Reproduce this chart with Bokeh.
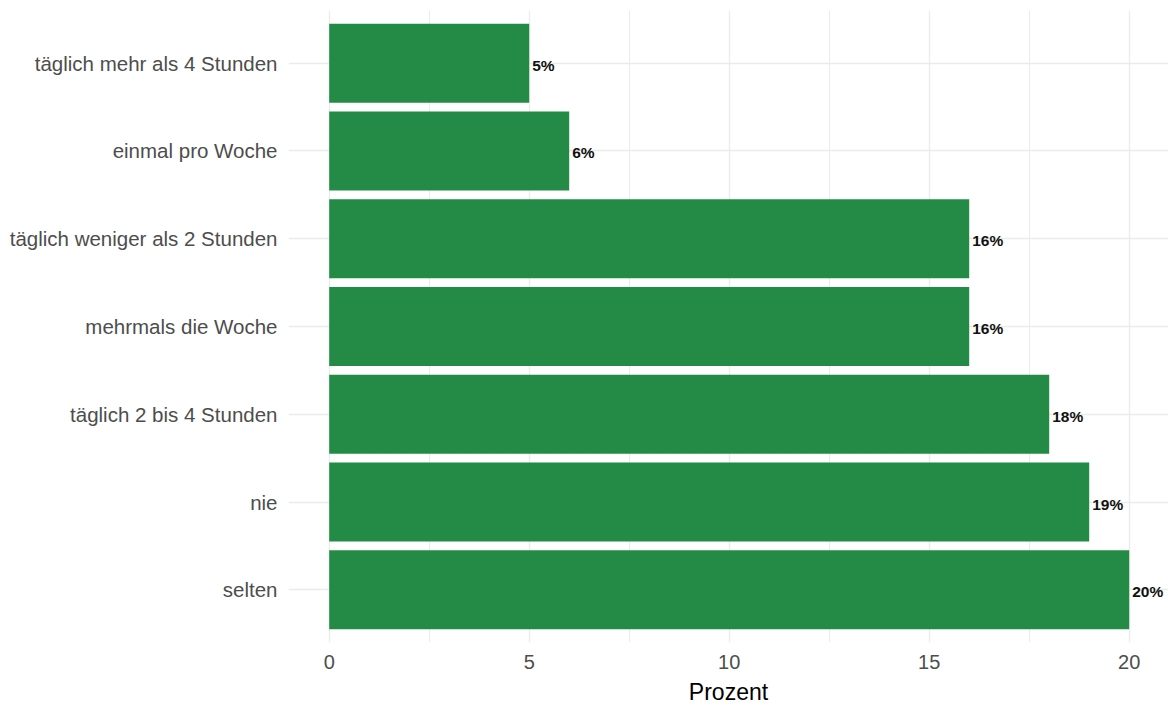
from bokeh.plotting import figure
from bokeh.models import Range1d, FixedTicker, ColumnDataSource
from bokeh.core.properties import value
from bokeh.embed import file_html
from bokeh.resources import INLINE

# Data (bottom to top)
categories = [
    "selten",
    "nie",
    "täglich 2 bis 4 Stunden",
    "mehrmals die Woche",
    "täglich weniger als 2 Stunden",
    "einmal pro Woche",
    "täglich mehr als 4 Stunden",
]
percent = [20, 19, 18, 16, 16, 6, 5]
x_ticks = [0, 5, 10, 15, 20]
x_minor = [2.5, 7.5, 12.5, 17.5]
x_title = "Prozent"

positions = list(range(1, len(categories) + 1))
labels = [f"{v}%" for v in percent]

src = ColumnDataSource(dict(y=positions, v=percent, lab=labels, cat=categories))

FONT = "Liberation Sans"

p = figure(
    width=1170, height=707,
    x_range=Range1d(-1.0175, 20.9825),
    y_range=Range1d(0.4, len(categories) + 0.6),
    output_backend="svg", toolbar_location=None,
    min_border_left=288, min_border_right=2, min_border_top=10, min_border_bottom=64,
)
p.outline_line_color = None
p.background_fill_color = "white"
p.border_fill_color = "white"

p.hbar(y="y", left=0, right="v", height=0.9, source=src,
       fill_color="#238b45", line_color=None)

p.text(x="v", y="y", text="lab", source=src, x_offset=3, y_offset=2,
       text_align="left", text_baseline="middle",
       text_font=value(FONT), text_font_style="bold",
       text_font_size="15.5px", text_color="#111111")

# x axis
p.xaxis.ticker = FixedTicker(ticks=x_ticks, minor_ticks=x_minor)
p.xaxis.axis_label = x_title
p.xaxis.axis_label_text_font = FONT
p.xaxis.axis_label_text_font_size = "23px"
p.xaxis.axis_label_text_font_style = "normal"
p.xaxis.axis_label_text_color = "#000000"
p.xaxis.axis_label_standoff = 7
p.xaxis.major_label_standoff = 6
p.xaxis.major_label_text_font = FONT
p.xaxis.major_label_text_font_size = "20px"
p.xaxis.major_label_text_color = "#4d4d4d"

# y axis
p.yaxis.ticker = FixedTicker(ticks=positions, minor_ticks=[])
p.yaxis.major_label_overrides = {pos: c for pos, c in zip(positions, categories)}
p.yaxis.major_label_standoff = 5
p.yaxis.major_label_text_font = FONT
p.yaxis.major_label_text_font_size = "20.5px"
p.yaxis.major_label_text_color = "#4d4d4d"

for ax in (p.xaxis, p.yaxis):
    ax.axis_line_color = None
    ax.major_tick_line_color = None
    ax.minor_tick_line_color = None

p.xgrid.grid_line_color = "#ebebeb"
p.xgrid.grid_line_width = 1.3
p.xgrid.minor_grid_line_color = "#ebebeb"
p.xgrid.minor_grid_line_width = 1.0
p.ygrid.grid_line_color = "#ebebeb"
p.ygrid.grid_line_width = 1.3

open("out.html", "w").write(file_html(p, INLINE))
